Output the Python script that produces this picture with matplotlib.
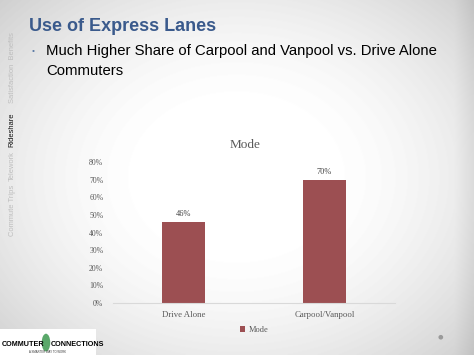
import matplotlib.pyplot as plt
import numpy as np
from matplotlib.patches import Rectangle, Ellipse

# Chart data
categories = ["Drive Alone", "Carpool/Vanpool"]
shares = [0.46, 0.70]
series_name = "Mode"
y_ticks = [0.0, 0.1, 0.2, 0.3, 0.4, 0.5, 0.6, 0.7, 0.8]

# Slide text
slide_title = "Use of Express Lanes"
bullet_lines = ["Much Higher Share of Carpool and Vanpool vs. Drive Alone", "Commuters"]
side_tabs = ["Satisfaction  Benefits", "Rideshare", "Telework", "Commute Trips"]
side_tab_y = [0.81, 0.634, 0.532, 0.408]
active_tab = "Rideshare"

bar_color = "#9c4f52"
serif = ["Liberation Serif", "DejaVu Serif"]
sans = ["Liberation Sans", "DejaVu Sans"]

fig = plt.figure(figsize=(4.74, 3.55), dpi=100)

# slide background: soft gray vignette
bg = fig.add_axes([0, 0, 1, 1])
xx, yy = np.meshgrid(np.linspace(-1, 1, 474), np.linspace(-1, 1, 355))
r = np.sqrt((xx * 0.95) ** 2 + (yy * 0.9) ** 2)
shade = 1.0 - 0.2 * np.clip(r - 0.35, 0, None) ** 1.6
shade[:, -20:] -= np.linspace(0, 0.05, 20)
bg.imshow(shade, cmap="gray", vmin=0, vmax=1, extent=[0, 1, 0, 1], aspect="auto")
bg.set_xlim(0, 1)
bg.set_ylim(0, 1)
bg.axis("off")

# title and bullet
fig.text(0.061, 0.925, slide_title, fontsize=13, fontweight="bold", color="#3a5a8c",
         family=sans, va="center", ha="left")
fig.text(0.066, 0.856, "\u2022", fontsize=6, color="#5b7aa5", va="center", family=sans)
fig.text(0.098, 0.856, bullet_lines[0], fontsize=10.7, color="black", va="center", family=sans)
fig.text(0.098, 0.800, bullet_lines[1], fontsize=10.7, color="black", va="center", family=sans)

# vertical navigation tabs
for label, y in zip(side_tabs, side_tab_y):
    c = "#111111" if label == active_tab else "#bdbdbd"
    fig.text(0.026, y, label, rotation=90, fontsize=5.4, color=c, ha="center", va="center",
             family=sans)

# logo box bottom-left
fig.patches.append(Rectangle((0.0, 0.0), 0.203, 0.072, transform=fig.transFigure,
                             facecolor="white", edgecolor="none", zorder=2))
fig.text(0.003, 0.030, "COMMUTER", fontsize=5.2, fontweight="bold", family=sans,
         color="black", va="center", zorder=3)
fig.patches.append(Ellipse((0.097, 0.035), 0.018, 0.05, transform=fig.transFigure,
                           facecolor="#5aa86a", edgecolor="none", zorder=3))
fig.text(0.108, 0.030, "CONNECTIONS", fontsize=5.2, fontweight="bold", family=sans,
         color="black", va="center", zorder=3)
fig.text(0.10, 0.008, "A SMARTER WAY TO WORK", fontsize=2, family=sans, color="#333333",
         ha="center", va="center", zorder=3)

# slide page dot
fig.patches.append(Ellipse((0.930, 0.050), 0.010, 0.013, transform=fig.transFigure,
                           facecolor="#9a9a9a", edgecolor="none"))

# the chart
ax = fig.add_axes([0.2384, 0.1465, 0.595, 0.397])
ax.patch.set_alpha(0)
x = np.arange(len(categories))
bars = ax.bar(x, shares, width=0.31, color=bar_color, label=series_name)
for b, v in zip(bars, shares):
    ax.annotate(f"{v:.0%}", (b.get_x() + b.get_width() / 2, v), xytext=(0, 3),
                textcoords="offset points", ha="center", va="bottom", fontsize=6,
                color="#404040", family=serif)

ax.set_xlim(-0.5, 1.5)
ax.set_ylim(0, 0.8)
ax.set_yticks(y_ticks)
ax.set_yticklabels([f"{t:.0%}" for t in y_ticks], family=serif, fontsize=5.6, color="#595959")
ax.set_xticks(x)
ax.set_xticklabels(categories, family=serif, fontsize=6.3, color="#595959")
ax.tick_params(axis="both", length=0)
ax.tick_params(axis="y", pad=7)
ax.tick_params(axis="x", pad=6)
for s in ["top", "right", "left"]:
    ax.spines[s].set_visible(False)
ax.spines["bottom"].set_color("#d9d9d9")
ax.spines["bottom"].set_linewidth(0.8)

fig.text(0.517, 0.592, "Mode", fontsize=9.5, family=serif, color="#595959",
         ha="center", va="center")

leg = ax.legend(loc="center", bbox_to_anchor=(0.5, -0.19), frameon=False,
                prop={"family": serif, "size": 6}, handlelength=0.7, handleheight=0.7,
                handletextpad=0.4)
for t in leg.get_texts():
    t.set_color("#595959")

fig.savefig("out.png", dpi=100)
